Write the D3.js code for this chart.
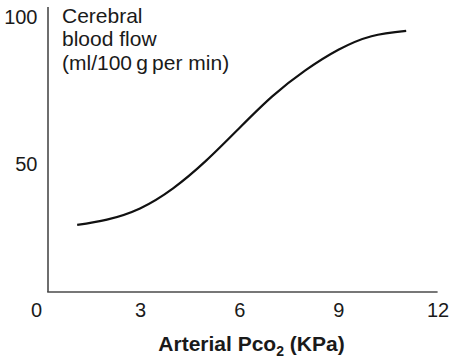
<!DOCTYPE html>
<html>
<head>
<meta charset="utf-8">
<script src="https://cdn.jsdelivr.net/npm/d3@7"></script>
<style>
  body { margin: 0; background: #fff; }
  text { font-family: "Liberation Sans", Arial, Helvetica, sans-serif; }
</style>
</head>
<body>
<div id="chart"></div>
<script>
// Arterial Pco2 (KPa) vs cerebral blood flow
var pco2 = [1.1, 2, 3, 4, 5, 6, 7, 8, 9, 10, 11.05];
var flow = [29.2, 31, 34.8, 41.6, 51, 62, 72.8, 81.6, 88.6, 93.2, 95];

var xTicks = [3, 6, 9, 12];
var yTicks = [50, 100];
var yLabelLines = ["Cerebral", "blood flow", "(ml/100\u2009g\u2009per min)"];

var width = 454, height = 360;

var svg = d3.select("#chart")
	.append("svg")
	.attr("width", width)
	.attr("height", height);

var x = d3.scaleLinear().domain([0, 12]).range([40.8, 437.6]);
var y = d3.scaleLinear().domain([0, 100]).range([311, 16.2]);

// frame (axis lines sit inside the label grid)
var frameLeft = 48, frameBottom = 292, frameTop = 7;
var axisColor = "#4a4a4a";
var textColor = "#1a1a1a";

svg.append("line")
	.attr("x1", frameLeft).attr("x2", frameLeft)
	.attr("y1", frameTop).attr("y2", frameBottom)
	.attr("stroke", axisColor)
	.attr("stroke-width", 1.6);

svg.append("line")
	.attr("x1", frameLeft - 0.8).attr("x2", x(12))
	.attr("y1", frameBottom).attr("y2", frameBottom)
	.attr("stroke", axisColor)
	.attr("stroke-width", 1.6);

// tick labels via axes without lines
var xAxis = svg.append("g")
	.attr("transform", "translate(0," + y(0) + ")")
	.call(d3.axisBottom(x).tickValues(xTicks).tickSize(0).tickPadding(0).tickFormat(d3.format("d")));
xAxis.select(".domain").remove();
xAxis.selectAll("text")
	.attr("dy", "0.31em")
	.attr("fill", textColor)
	.style("font-size", "20px")
	.style("font-family", "'Liberation Sans', Arial, sans-serif");

var yAxis = svg.append("g")
	.attr("transform", "translate(37.5,0)")
	.call(d3.axisLeft(y).tickValues(yTicks).tickSize(0).tickPadding(0).tickFormat(d3.format("d")));
yAxis.select(".domain").remove();
yAxis.selectAll("text")
	.attr("dy", "0.36em")
	.attr("fill", textColor)
	.style("font-size", "20px")
	.style("font-family", "'Liberation Sans', Arial, sans-serif");

// shared origin label
svg.append("text")
	.attr("x", 42).attr("y", y(0))
	.attr("dy", "0.31em")
	.attr("text-anchor", "end")
	.attr("fill", textColor)
	.style("font-size", "20px")
	.text("0");

// y title, inside the plot at top-left
svg.append("text")
	.attr("x", 62).attr("y", 23)
	.attr("fill", textColor)
	.style("font-size", "21px")
	.selectAll("tspan")
	.data(yLabelLines)
	.enter()
	.append("tspan")
	.attr("x", 62)
	.attr("dy", function(d, i) { return i === 0 ? 0 : 23.3; })
	.text(function(d) { return d; });

// x title with subscript
var xt = svg.append("text")
	.attr("x", 251.5).attr("y", 350.5)
	.attr("text-anchor", "middle")
	.attr("fill", textColor)
	.style("font-size", "21px")
	.style("font-weight", "bold");
xt.append("tspan").text("Arterial Pco");
xt.append("tspan").attr("dy", 5).style("font-size", "14px").text("2");
xt.append("tspan").attr("dy", -5).text(" (KPa)");

// curve
var line = d3.line()
	.x(function(d, i) { return x(pco2[i]); })
	.y(function(d) { return y(d); })
	.curve(d3.curveNatural);

svg.append("path")
	.datum(flow)
	.attr("d", line)
	.attr("fill", "none")
	.attr("stroke", "#111")
	.attr("stroke-width", 2.2);
</script>
</body>
</html>
